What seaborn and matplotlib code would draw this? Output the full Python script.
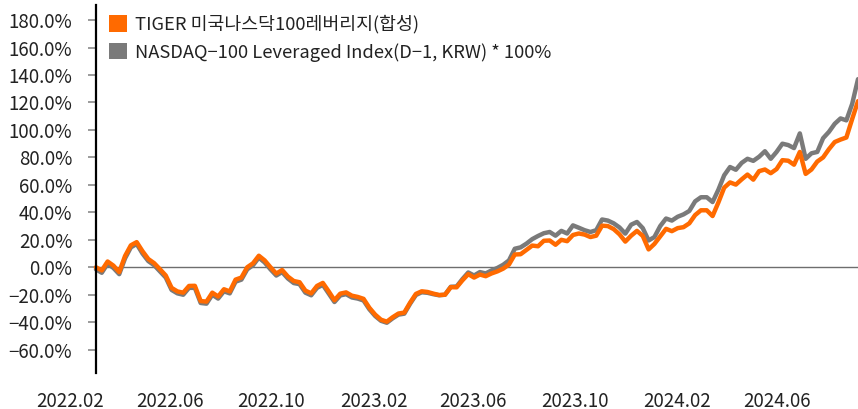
import pandas as pd
import numpy as np
import matplotlib
matplotlib.use("Agg")
import matplotlib.pyplot as plt
import matplotlib.dates as mdates
from matplotlib.patches import Patch
from matplotlib.ticker import FuncFormatter
import seaborn as sns

sns.set_style("white")
plt.rcParams['font.family'] = ['Noto Sans CJK KR', 'DejaVu Sans']

# weekly readings (cumulative return, %)
start_date = '2022-03-04'
n_weeks = 132

tiger = [
    0, -2.3, 4.2, 1.2, -3.5, 8.2, 16, 18.3, 11.7, 6,
    3, -1.4, -6, -15, -17.6, -18.5, -13.6, -13.5, -24.6, -25,
    -18.5, -21.3, -16, -17.6, -9, -7.5, 0, 2.9, 8.4, 5,
    0, -4.6, -2, -6.8, -10, -10.9, -17, -19, -13.6, -11.4,
    -17.5, -24, -19.2, -18.3, -20.7, -21.6, -23, -29.5, -34.5, -38.2,
    -39.6, -36.4, -33.7, -33, -25.8, -19.4, -17.5, -18, -19.2, -20.2,
    -20, -14.5, -14.6, -9.5, -5, -7.5, -5.3, -6.5, -4.5, -3,
    -1, 2, 9.3, 9.5, 12.6, 15.8, 15.3, 19.3, 19.5, 16.4,
    20, 19, 23.5, 24.6, 23.8, 22, 23, 30.3, 30, 27.8,
    24, 18.7, 23, 26.5, 22.8, 13, 17, 22.5, 28, 26.3,
    28.5, 29.2, 32, 38, 41.5, 41.5, 37.3, 47.2, 58, 61.8,
    60.2, 64, 67.5, 63.8, 70, 71.2, 68.5, 71.5, 78, 77.6,
    74.7, 84, 68, 71.2, 77, 80, 86, 91.2, 93, 94.5,
    108, 121,
]

nasdaq = [
    -1.5, -4, 2.6, -0.5, -5, 6.5, 14.5, 17, 10, 4.5,
    1.5, -3, -7.5, -16.5, -19, -20, -15, -15, -26, -26.5,
    -20, -22.8, -17.5, -19, -10.5, -9, -1.5, 1.5, 7, 3.5,
    -1.5, -6, -3.5, -8.2, -11.5, -12.3, -18.5, -20.4, -15, -12.8,
    -19, -25.3, -20.5, -19.6, -22, -22.8, -24.2, -30.6, -35.5, -39,
    -40.4, -37.2, -34.5, -33.8, -26.6, -20.2, -18.2, -18.6, -19.6, -20.4,
    -20, -14.2, -14, -8.6, -3.8, -6, -3.5, -4.5, -2.3, -0.5,
    1.8, 5, 13.5, 14.5, 17.2, 20.5, 22.8, 24.8, 25.7, 23,
    26.5, 24.6, 30.5, 28.8, 27, 25.7, 27, 34.8, 34, 32,
    29, 24.5, 31, 33, 28.5, 19.5, 22, 30, 35.5, 34,
    36.8, 38.5, 41, 48, 51, 51, 47.5, 56.5, 67, 73,
    71, 76, 79, 77.5, 80.5, 84.5, 79, 84, 90, 89,
    86.8, 97.5, 79, 83, 84, 94, 98.6, 104.5, 108.4, 107,
    119, 137,
]

label_tiger = 'TIGER 미국나스닥100레버리지(합성)'
label_ndx = 'NASDAQ−100 Leveraged Index(D−1, KRW) * 100%'

tick_dates = ['2022-02-01', '2022-06-01', '2022-10-01', '2023-02-01',
              '2023-06-01', '2023-10-01', '2024-02-01', '2024-06-01']
tick_labels = ['2022.02', '2022.06', '2022.10', '2023.02',
               '2023.06', '2023.10', '2024.02', '2024.06']
y_ticks = [-60, -40, -20, 0, 20, 40, 60, 80, 100, 120, 140, 160, 180]

dates = pd.date_range(start_date, periods=n_weeks, freq='W-FRI')
df = pd.DataFrame({'date': dates, label_ndx: nasdaq, label_tiger: tiger})
df = df.melt(id_vars='date', var_name='series', value_name='ret')

orange = '#FF6A00'
grey = '#7A7A7A'

fig = plt.figure(figsize=(8.58, 4.09), dpi=100)
ax = fig.add_axes([70.2 / 858, 36 / 409, (858 - 70.2) / 858, 368 / 409])

sns.lineplot(data=df, x='date', y='ret', hue='series',
             hue_order=[label_ndx, label_tiger],
             palette=[grey, orange], linewidth=3.2, legend=False, ax=ax)

ax.hlines(0, dates[0], dates[-1], color='#6E6E6E', linewidth=1.0, zorder=1)

ax.set_xlim(pd.Timestamp('2022-02-01'), dates[-1])
ax.set_ylim(-77, 191)

ax.set_xticks(pd.to_datetime(tick_dates))
ax.set_xticklabels(tick_labels)
ax.set_yticks(y_ticks)
ax.yaxis.set_major_formatter(FuncFormatter(lambda v, p: f"{v:.1f}%".replace('-', '−')))

for s in ['top', 'right', 'bottom']:
    ax.spines[s].set_visible(False)
ax.spines['left'].set_position(('data', mdates.date2num(dates[0])))
ax.spines['left'].set_color('black')
ax.spines['left'].set_linewidth(1.6)

ax.tick_params(axis='y', which='major', left=True, length=6, width=1.2,
               color='#8A8A8A', pad=11, labelsize=13.5, labelcolor='#222222')
ax.tick_params(axis='x', which='major', bottom=False, length=0, pad=13,
               labelsize=13.5, labelcolor='#222222')
ax.set_xlabel('')
ax.set_ylabel('')

handles = [Patch(facecolor=orange, edgecolor='none', label=label_tiger),
           Patch(facecolor=grey, edgecolor='none', label=label_ndx)]
fig.legend(handles=handles, loc='upper left', bbox_to_anchor=(109 / 858, 1 - 15 / 409),
           frameon=False, fontsize=13.2, handlelength=1.0, handleheight=1.0,
           handletextpad=0.4, labelspacing=0.5, borderpad=0, borderaxespad=0,
           labelcolor='#222222')

fig.savefig('out.png', dpi=100)
